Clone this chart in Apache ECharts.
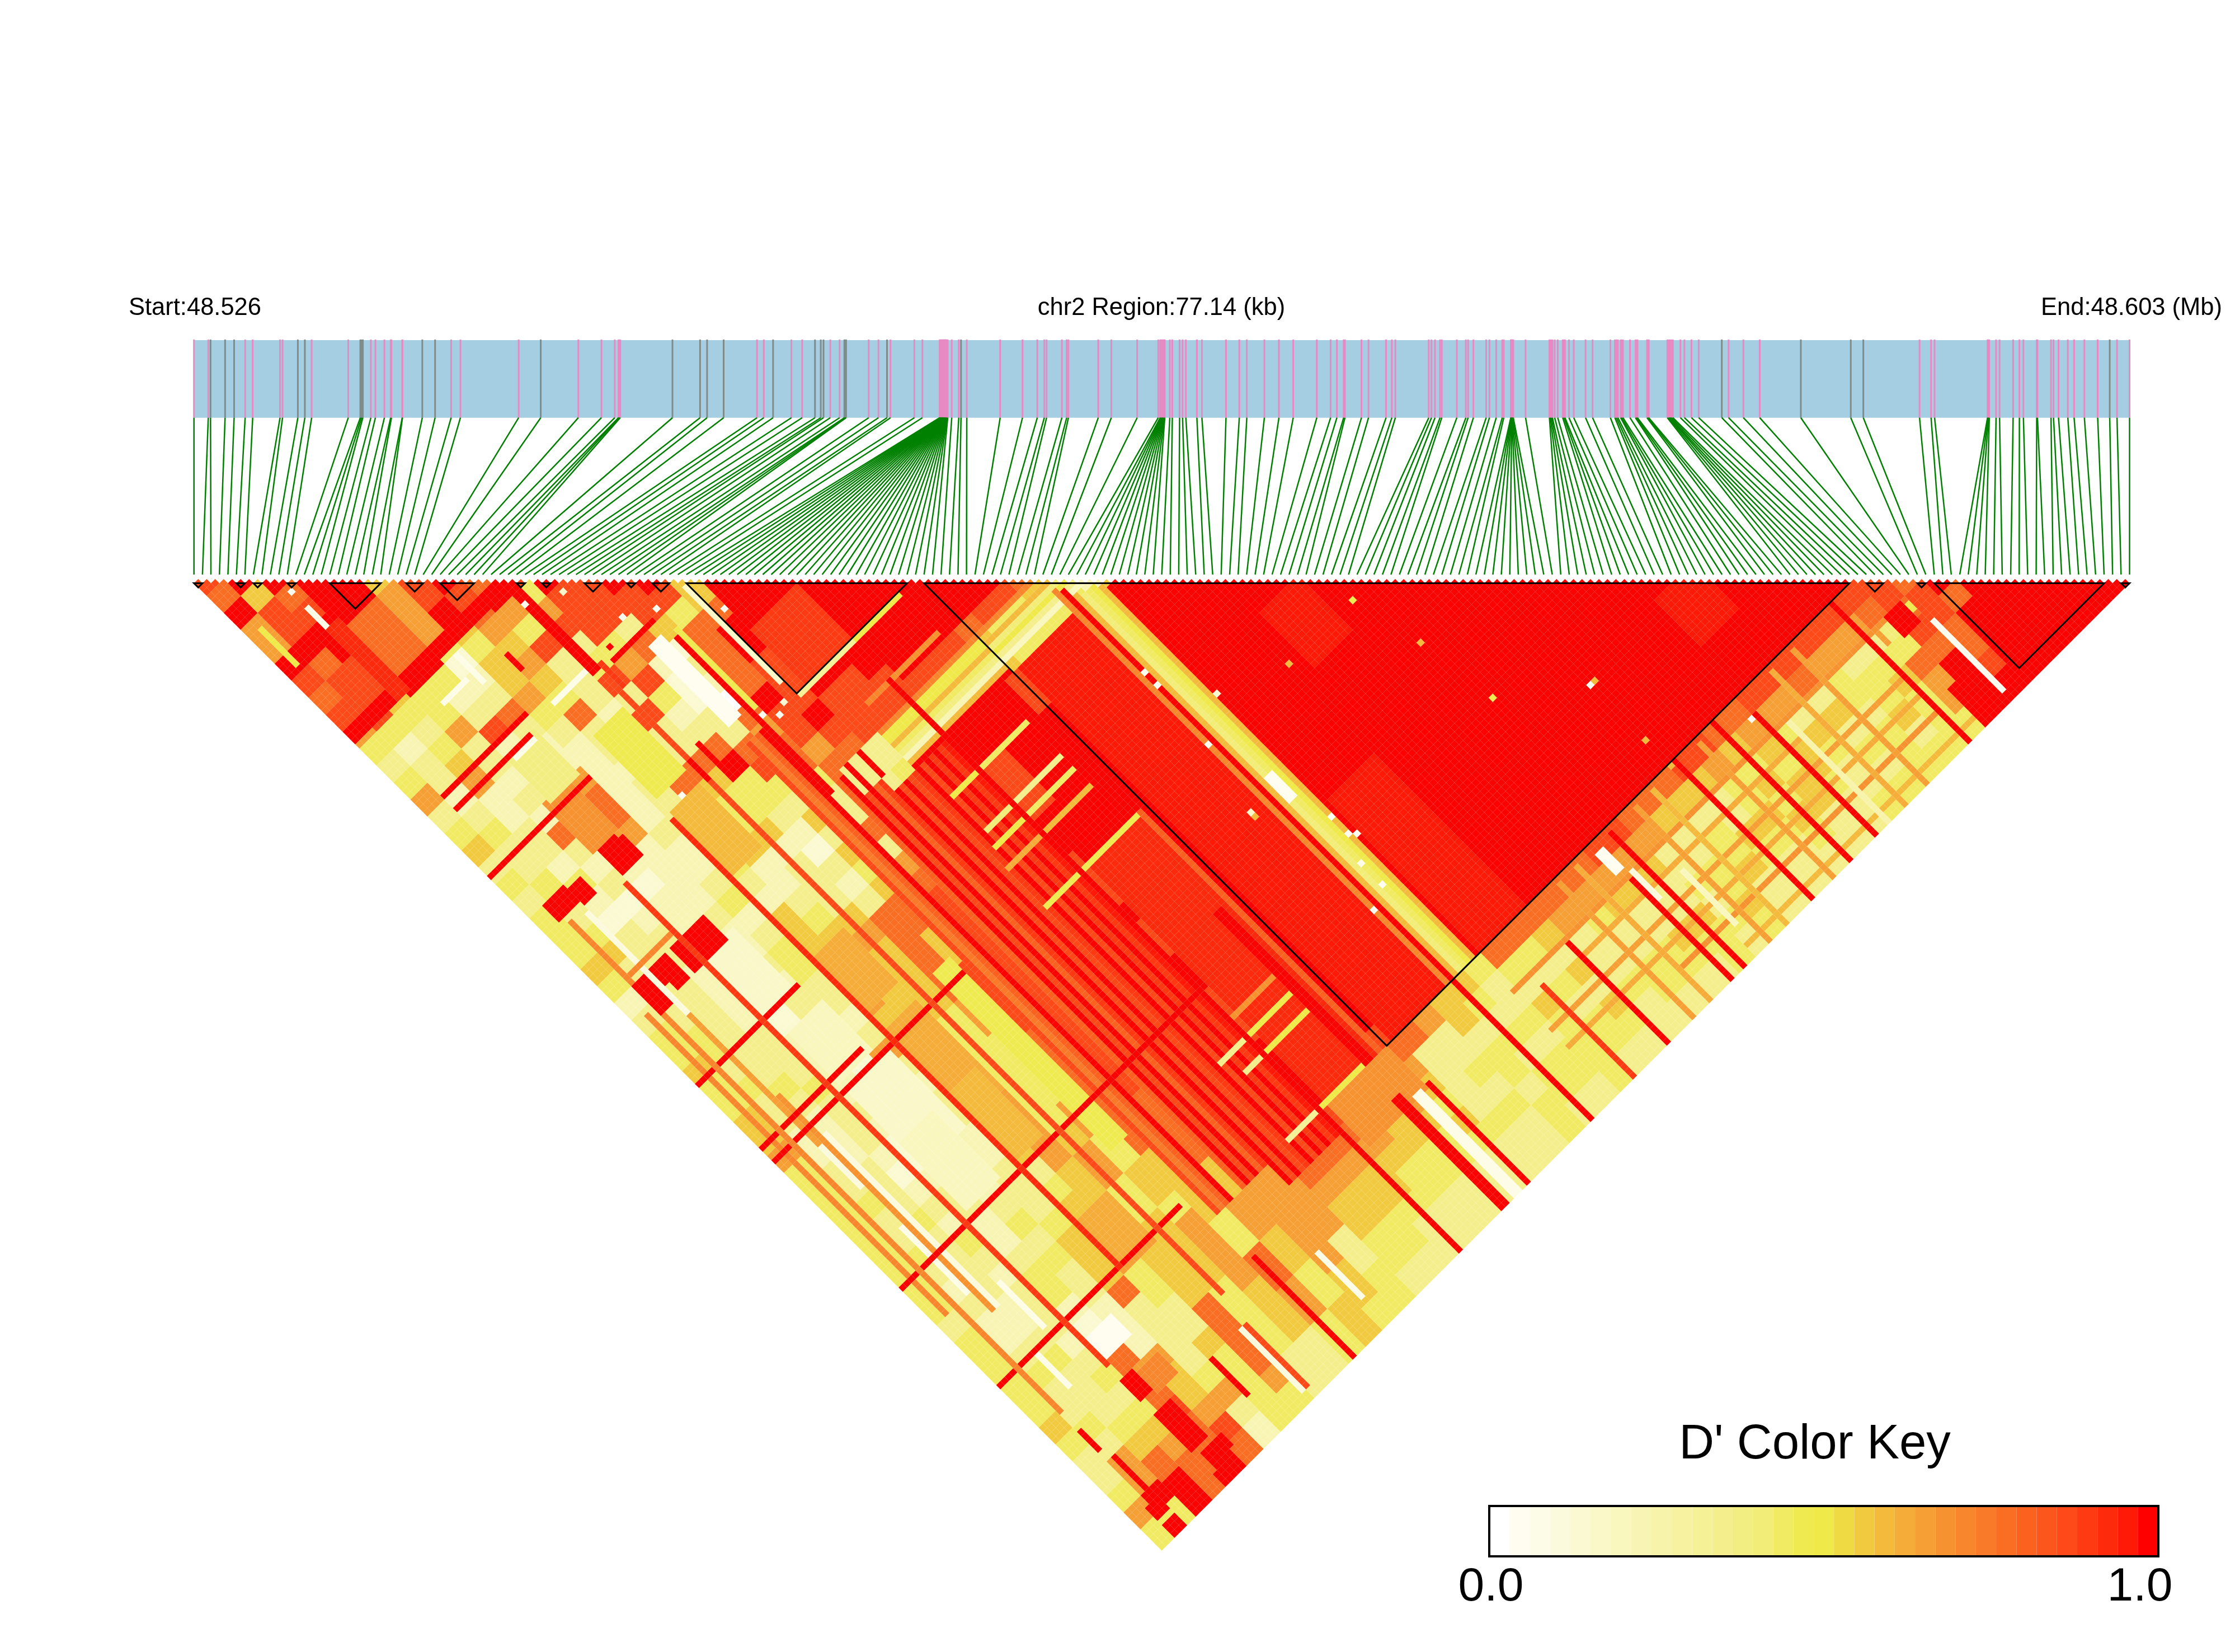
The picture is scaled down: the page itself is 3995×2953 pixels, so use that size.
<!DOCTYPE html>
<html>
<head>
<meta charset="utf-8">
<style>html,body{margin:0;padding:0;background:#fff}#ld{width:3995px;height:2953px}</style>
<script src="https://cdn.jsdelivr.net/npm/echarts@6/dist/echarts.min.js"></script>
</head>
<body>
<div id="ld"></div>
<script>
// Physical SNP positions along the region, in kb from the region start.
const snpKb = [
  0.00,0.57,0.66,1.24,1.60,2.04,2.34,3.43,3.53,4.14,4.42,4.69,6.15,6.63,6.68,6.73,7.05,7.23,7.59,7.84,
  7.87,8.30,8.31,9.10,9.61,10.25,10.62,12.94,13.82,15.32,16.24,16.77,16.92,16.95,16.99,19.07,20.17,20.45,21.11,22.44,
  22.71,23.08,23.81,24.24,24.75,24.98,25.09,25.36,25.73,25.92,25.96,25.99,26.89,27.28,27.62,27.76,28.71,29.03,
  29.72,29.73,29.75,29.76,29.77,29.78,29.79,29.80,29.81,29.83,29.84,29.85,29.86,29.87,29.88,29.89,29.90,29.91,29.92,29.93,
  29.94,29.95,29.96,29.97,29.98,29.99,30.00,30.01,30.02,30.04,
  30.20,30.48,30.57,30.80,32.13,33.02,33.61,33.89,33.98,34.59,34.78,34.85,36.04,36.56,37.59,38.43,
  38.51,38.53,38.55,38.57,38.59,38.61,38.63,38.65,38.67,38.69,
  38.89,38.99,39.28,39.40,39.53,39.97,40.17,41.13,41.66,41.96,42.66,43.24,43.81,44.75,45.30,45.55,45.82,45.87,46.53,46.81,
  47.51,47.74,47.88,49.21,49.32,49.46,49.66,49.73,50.33,50.69,50.78,50.99,51.50,51.63,51.90,52.14,52.20,
  52.48,52.49,52.50,52.51,52.52,52.53,52.54,52.56,52.58,
  53.07,54.02,54.06,54.10,54.14,54.23,54.35,54.55,54.60,54.64,54.80,54.99,55.46,55.74,56.45,56.63,56.69,56.75,56.86,56.90,
  56.95,57.23,57.45,57.49,57.53,57.91,57.95,57.98,58.72,58.76,58.80,58.83,58.88,58.94,59.24,59.40,59.68,59.97,60.89,61.16,
  61.75,62.40,64.04,66.03,66.53,68.77,69.23,69.37,71.48,71.50,71.52,71.55,71.82,71.96,72.50,72.75,72.91,73.44,73.47,74.01,
  74.11,74.31,74.68,74.93,75.34,75.87,76.35,76.64,77.14
];
// Positions of the SNPs ticked in grey rather than pink.
const greySnpKb = [0.66,1.24,1.60,4.14,4.42,6.63,6.68,6.73,9.10,9.61,13.82,19.07,20.17,20.45,21.11,23.08,24.75,24.98,25.09,25.92,25.96,25.99,27.62,30.57,60.89,64.04,66.03,66.53,76.35];

// LD blocks, as first and last SNP slot.
const ldBlocks = [[0,1],[5,6],[7,8],[11,12],[16,22],[25,27],[29,33],[38,39],[41,42],[46,48],[51,52],[54,56],[58,84],[86,195],[197,199],[203,204],[205,225],[227,228]];

// Pairwise D' by groups of four SNPs: one string per group, digit = D' x 9, from the group with itself onward.
const groupSize = 4;
const dPrimeGroups = [
 "8796698786 4346345343 4445423445 4455644444 4444344444 5433464",
 "9588978884 2332343349 3453933443 4332233433 4323223433 436694",
 "9789988543 4562233242 1339333333 4322233343 3332234333 45779",
 "9997779446 3323273231 2332222333 4333212324 3233323434 5677",
 "9977794238 2367679212 2921111222 2321123322 3442117678 779",
 "5666412373 2267762222 3223233221 2112232343 4332226556 87",
 "8895455643 2222232234 2344332363 2332233345 5573333463 2",
 "9876565473 3233365432 5556665356 6655534556 6443354444",
 "7964833323 3375555223 4566554466 6666655666 555777764",
 "8468348383 3754452333 5655554444 4445664455 55444433",
 "9888468423 7944321323 7777766444 4664455466 6655533",
 "8883721133 7843535457 7558888777 7777555544 776644",
 "9885132076 7743373678 8888888888 8777755665 54455",
 "9847777988 6733887777 8888888888 8888866666 6554",
 "5579988898 7337887777 8888888888 8887766663 3",
 "9999999888 5488888888 8888888888 8889976554 43",
 "9999998885 4898888888 8888888888 8999765544 3",
 "9999998854 9988899888 9889988899 9987655433",
 "9999998549 9888999999 9999999999 876654433",
 "9999985499 9999999999 9999999987 76554433",
 "9999854999 9999999999 9999999977 6654433",
 "9997558899 9999999999 9999999876 545433",
 "9984499999 9999999999 9999998733 33433",
 "9844999999 9999999999 9999876334 3433",
 "7549999999 9999999999 9998755344 344",
 "4466666666 6666666666 6666543434 43",
 "2555555555 5555555555 5554334344 3",
 "9999999999 9999999999 9974354444",
 "9999999999 9999999999 974343443",
 "9999999999 9999999999 75353543",
 "9999999999 9999999997 6333433",
 "9999999999 9999999976 433443",
 "9999999999 9999999765 33443",
 "9999999999 9999998653 3543",
 "9999999999 9999986533 544",
 "9999999999 9999763343 43",
 "9999999999 9997533445 4",
 "9999999999 9975344533",
 "9999999999 985335433",
 "9999999999 86445433",
 "9999999997 5454543",
 "9999999976 545533",
 "9999999864 55433",
 "9999998635 433",
 "9999987353 43",
 "9999864434 4",
 "9998634453",
 "998634544",
 "98764766",
 "88787989",
 "7887789",
 "979999",
 "99999",
 "9999",
 "999",
 "99",
 "9"
];

// Individual SNP stripes and local patches laid over the groups: [firstI, lastI, firstJ, lastJ, D'].
const dPrimePatches = [
 [87,99,108,195,.97],[72,83,140,195,.94],[108,118,160,195,.97],[122,130,130,142,.97],[170,178,175,185,.97],[60,70,72,84,.92],
 [46,46,85,195,.86],[47,47,85,195,.76],[48,48,85,195,.82],[49,49,85,195,1],[52,52,100,195,.82],[53,53,100,195,1],[54,54,100,195,.86],[55,55,100,195,1],[56,56,100,195,.82],[57,57,100,195,.92],
 [58,58,108,200,1],[59,59,108,200,.88],[60,60,108,200,1],[61,61,108,200,.86],[62,62,108,200,.92],[63,63,108,200,1],[64,64,108,200,.88],[65,65,108,200,1],[66,66,108,200,.92],[67,67,108,200,1],[68,68,108,200,.92],[69,69,108,200,.97],
 [2,2,105,175,.72],[7,7,86,150,.1],[8,8,130,180,.7],[7,7,110,140,.65],[9,9,140,180,.08],[7,7,160,175,.05],[12,12,178,188,.05],[8,8,190,198,.05],[53,53,212,222,.05],[4,14,98,98,.72],
 [107,195,204,204,.68],[120,170,208,208,.62],[107,190,213,213,.66],[107,190,217,217,.62],[130,190,221,221,.7],[140,195,226,226,.6],
 [125,125,197,228,.66],[129,129,197,228,.62],[143,143,197,228,.66],[147,147,197,228,.6],[158,158,197,228,.66],[175,175,197,228,.62],[180,180,197,228,.66],[141,141,210,222,.2],[171,171,205,228,.25],
 [15,20,68,79,.68],[16,22,58,68,.38],[29,35,66,80,.47],[29,35,84,98,.58],
 [29,35,118,130,.62],[29,35,135,155,.62],[29,34,150,165,.6],[29,35,180,190,.62],
 [17,26,138,155,.15],[17,24,150,165,.2],[15,22,105,118,.15],[17,24,124,135,.18],
 [41,44,134,148,.48],[41,44,148,160,.48],[41,44,160,175,.48],[54,62,99,104,.35],[55,55,99,104,1],[58,58,99,104,1],
 [86,100,99,99,.72],[86,101,101,101,.58],[86,102,102,102,.42],[86,103,103,103,.5],[86,103,104,104,.35],[86,104,105,105,.2],
 [63,85,99,99,.72],[63,85,100,101,.5],[63,85,102,102,.6],[63,85,103,103,.45],[63,85,104,104,.38],[63,85,105,105,.22],[63,85,106,106,.6],[63,85,107,107,1],
 [100,100,103,195,.72],[101,101,104,228,1],[102,102,106,195,.58],[103,103,107,195,.4],[104,104,107,195,.45],[105,105,107,195,.5],[106,106,108,195,.6],[107,107,109,195,1],
 [58,70,85,85,.3],[71,81,85,85,.5],[57,57,59,81,.15],
 [71,81,94,94,.7],[65,70,94,94,.72],[71,81,115,115,.45],[64,70,115,115,.5],[71,81,123,123,.33],[64,70,123,123,.4],
 [71,81,126,126,.45],[63,70,126,126,.5],[71,81,130,130,.6],[62,70,130,130,.62],[62,83,139,139,.47],
 [71,81,174,174,.68],[71,81,178,178,.5],[64,70,178,178,.35],[71,81,182,182,.5],[66,70,182,182,.33],[71,81,195,195,.5],[63,70,195,195,.3],
 [84,84,139,200,.82],[70,70,94,228,1],[81,82,160,200,1],[51,51,63,81,.47],[50,50,64,100,1],[72,85,196,205,.7],
 [0,23,119,119,1],[0,23,134,134,1],[0,44,137,137,1],[0,70,167,167,1],[0,42,190,190,1],[0,23,70,70,1],[4,21,58,58,1],[4,23,55,55,1],
 [0,36,36,38,1],[0,14,21,23,1],[10,12,22,38,.95],[36,37,38,58,1],[40,49,59,59,1],
 [4,4,85,200,.72],[15,15,87,200,.9],[28,28,85,190,.93],[37,37,60,205,.88],[45,45,205,228,1],
 [111,111,207,228,.9],[86,86,205,228,1],[80,81,203,228,1],[83,84,205,228,.05],[119,119,205,228,1],[134,134,205,228,1],[137,137,197,228,1],
 [153,153,195,228,1],[162,162,196,228,1],[168,168,200,228,1],[190,190,194,228,1],[36,36,212,226,.88],[35,35,212,226,.1],[5,5,212,220,1],
 [46,48,62,80,.02],[10,10,17,21,.05],[2,2,14,22,.5],[16,20,81,85,1],[16,20,100,105,1],[9,11,100,105,1],[13,14,100,105,1],[4,6,100,106,1],[8,10,81,84,1],[3,6,80,83,1],
 [16,21,195,199,.03],[18,22,205,209,.72],[15,18,212,220,1],[16,20,222,224,1],[15,19,226,228,1],[3,5,222,224,1],[3,5,226,228,1],[8,11,221,224,1],[8,11,226,228,1],[15,17,204,208,1],
 [28,28,212,220,1],[4,4,205,209,1],[194,199,220,228,1],[195,198,204,208,1],[200,200,210,226,.02],[193,194,205,207,.4],[199,199,205,206,.47],
 [167,167,200,200,.03],[133,134,198,202,.03],[135,135,204,210,.1],
 [134,134,139,139,.47],[119,119,139,139,.6],[137,137,152,152,.6],[139,139,167,167,.47],[153,153,177,177,.6],[152,152,177,177,.03],[152,152,190,190,.6],[152,152,196,196,.6],
 [97,97,152,152,.15],[97,97,153,153,.6],[106,106,162,162,.03],[106,106,166,166,.03],[107,107,167,167,.03],[103,104,150,155,.03],[101,101,123,123,.02],[101,101,126,126,.02],[107,107,134,134,.12],[100,100,139,139,.03],[104,104,171,171,.05],[104,104,176,176,.03],[100,100,178,178,.03],
 [10,10,13,13,.03],[36,36,42,42,.03],[42,42,45,45,.15],[46,46,55,55,.03],[51,51,58,58,.03],[59,59,66,66,.03],[51,51,83,83,.03],[53,53,85,85,.03],[55,55,84,84,.12],[32,32,83,83,.03],
 [22,22,40,46,.05],[15,20,44,44,.05],[28,35,57,57,.05],[17,21,59,59,.05],
 [36,36,52,52,1],[37,37,55,55,1],[41,41,57,57,1],[28,28,46,49,1],[38,38,58,63,.92],[40,40,79,84,1],[37,37,80,84,1]
];

// Colour key: level colours from D' 0 to 1, title and end labels.
const keyColors = ["#FFFFFF","#FEFDF0","#FDFCE6","#FCFADC","#FBF9D2","#FAF7C8","#F9F6BE","#F8F5B4","#F7F3AA","#F6F2A0","#F5F196","#F4EF8C","#F3EE82","#F2ED78","#F1EB64","#EFEA50","#EFE94A","#F0DA44","#F2CA40","#F4BA3C","#F5AC38","#F69F34","#F79230","#F8862C","#F97A28","#FA6E24","#FB6220","#FC561C","#FD4A18","#FD3A12","#FE2A0C","#FF1A08","#FF0000"];
const keyTitle = "D' Color Key";
const keyTickLabels = ["0.0","1.0"];
const regionLabels = ["Start:48.526","chr2 Region:77.14 (kb)","End:48.603 (Mb)"];
const regionKb = 77.14;

const slotCount = snpKb.length;
const slotOfKb = kb => kb / regionKb * (slotCount - 1);

// Expand groups and patches into a full pairwise matrix.
const groupRows = dPrimeGroups.map(s => s.replace(/ /g, ''));
const lastGroup = groupRows.length - 1;
function groupValue(i, j) {
  const a = Math.min(lastGroup, Math.floor(i / groupSize));
  const b = Math.min(lastGroup, Math.floor(j / groupSize));
  const ch = groupRows[a][b - a];
  return (ch === undefined ? 4 : +ch) / 9;
}
const ldMatrix = [];
for (let i = 0; i < slotCount; i++) {
  ldMatrix.push(new Float32Array(slotCount));
  for (let j = i + 1; j < slotCount; j++) ldMatrix[i][j] = groupValue(i, j);
}
dPrimePatches.forEach(([i0, i1, j0, j1, v]) => {
  for (let i = i0; i <= i1 && i < slotCount; i++)
    for (let j = Math.max(j0, i + 1); j <= j1 && j < slotCount; j++) ldMatrix[i][j] = v;
});
const ldCells = [];
for (let i = 0; i < slotCount; i++)
  for (let j = i + 1; j < slotCount; j++) ldCells.push([i, j, ldMatrix[i][j]]);

// Vertical tracks in row units of the triangle.
const trackBarTop = -56.28, trackBarBottom = -38.0, trackLinkBottom = -1.04;
const rowMin = -57.34, rowMax = 232.71;

const chart = echarts.init(document.getElementById('ld'), null, {renderer: 'canvas'});

function renderCell(params, api) {
  const i = api.value(0), j = api.value(1), v = api.value(2);
  const x = (i + j) / 2, d = j - i;
  const pts = [[x, d - 1], [x + .5, d], [x, d + 1], [x - .5, d]].map(p => api.coord(p));
  return {type: 'polygon', shape: {points: pts}, style: {fill: keyColors[Math.round(v * 32)]}};
}
function renderBlock(params, api) {
  const a = api.value(0), b = api.value(1);
  const pts = [[a, 1], [b, 1], [(a + b) / 2, 1 + (b - a)]].map(p => api.coord(p));
  return {type: 'polygon', shape: {points: pts}, style: {fill: 'none', stroke: '#000', lineWidth: 3, lineJoin: 'miter'}};
}
function renderBand(params, api) {
  const a = api.coord([0, trackBarTop]), b = api.coord([slotCount - 1, trackBarBottom]);
  return {type: 'rect', shape: {x: a[0], y: a[1], width: b[0] - a[0], height: b[1] - a[1]}, style: {fill: '#A6CEE3'}};
}
function renderTick(params, api) {
  const s = api.value(0), grey = api.value(1);
  const a = api.coord([s, trackBarTop - .15]), b = api.coord([s, trackBarBottom]);
  return {type: 'line', shape: {x1: a[0], y1: a[1], x2: b[0], y2: b[1]}, style: {stroke: grey ? '#7F8C8A' : '#E78AC3', lineWidth: 3}};
}
function renderLink(params, api) {
  const a = api.coord([api.value(0), trackBarBottom]), b = api.coord([api.value(1), trackLinkBottom]);
  return {type: 'line', shape: {x1: a[0], y1: a[1], x2: b[0], y2: b[1]}, style: {stroke: '#008000', lineWidth: 2.5}};
}
function renderSwatch(params, api) {
  const k = api.value(0);
  const a = api.coord([k, 1]), b = api.coord([k + 1, 0]);
  return {type: 'rect', shape: {x: a[0], y: a[1], width: b[0] - a[0], height: b[1] - a[1]}, style: {fill: keyColors[k]}};
}

const custom = (name, renderItem, data, z, extra) => Object.assign({
  type: 'custom', name, renderItem, data, z, silent: true, animation: false, progressive: 0, clip: false,
  xAxisIndex: 0, yAxisIndex: 0
}, extra || {});

const text = (x, y, str, size, align) => ({
  type: 'text', x, y, silent: true,
  style: {text: str, fill: '#000', font: size + 'px "Liberation Sans", Arial, sans-serif', textAlign: align, textVerticalAlign: 'middle'}
});

chart.setOption({
  animation: false,
  backgroundColor: '#fff',
  grid: [
    {left: 346.7, top: 600, width: 3459.8, height: 2200, show: false},
    {left: 2662, top: 2692, width: 1196, height: 90, show: true, borderColor: '#000', borderWidth: 4, z: 20}
  ],
  xAxis: [
    {type: 'value', gridIndex: 0, min: 0, max: slotCount - 1, show: false},
    {type: 'value', gridIndex: 1, min: 0, max: keyColors.length, show: false}
  ],
  yAxis: [
    {type: 'value', gridIndex: 0, min: rowMin, max: rowMax, inverse: true, show: false},
    {type: 'value', gridIndex: 1, min: 0, max: 1, show: false}
  ],
  series: [
    custom('band', renderBand, [[0]], 1),
    custom('snps', renderTick, snpKb.map(kb => [slotOfKb(kb), greySnpKb.includes(kb) ? 1 : 0]), 2),
    custom('links', renderLink, snpKb.map((kb, k) => [slotOfKb(kb), k]), 3),
    custom('dprime', renderCell, ldCells, 4),
    custom('blocks', renderBlock, ldBlocks, 5),
    custom('key', renderSwatch, keyColors.map((c, k) => [k]), 6, {xAxisIndex: 1, yAxisIndex: 1})
  ],
  graphic: [
    text(230, 551, regionLabels[0], 43.5, 'left'),
    text(2076, 551, regionLabels[1], 43.5, 'center'),
    text(3972, 551, regionLabels[2], 43.5, 'right'),
    text(3244, 2583, keyTitle, 87, 'center'),
    text(2665, 2838, keyTickLabels[0], 84, 'center'),
    text(3825, 2838, keyTickLabels[1], 84, 'center')
  ]
});
</script>
</body>
</html>
